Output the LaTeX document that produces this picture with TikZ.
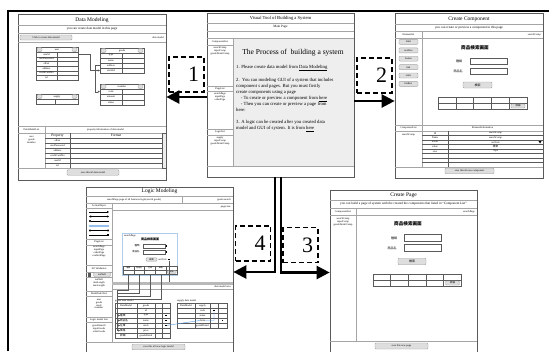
\documentclass[tikz,border=0pt]{standalone}
\usepackage{fontspec}
\setmainfont{Liberation Serif}
\newfontfamily\jpfont{Noto Sans CJK JP}
\usetikzlibrary{positioning, arrows.meta, calc}
\definecolor{FrameGray}{RGB}{90,90,90}
\definecolor{LineGray}{RGB}{165,165,165}
\definecolor{PaneGray}{RGB}{238,238,238}
\definecolor{BtnGray}{RGB}{222,222,222}
\definecolor{PreviewBlue}{RGB}{175,205,235}
\definecolor{LinkBlue}{RGB}{80,150,225}

\begin{document}
\begin{tikzpicture}[x=1pt, y=-1pt,
  panel/.style={rectangle, draw=FrameGray, fill=white, line width=0.7pt, inner sep=0pt},
  sep/.style={draw=LineGray, line width=0.4pt},
  grid/.style={draw=FrameGray, line width=0.3pt},
  ttl/.style={font=\fontsize{5.5}{6}\selectfont, inner sep=0pt},
  sub/.style={font=\fontsize{3.3}{3.6}\selectfont, inner sep=0pt},
  tinytxt/.style={font=\fontsize{2.6}{2.9}\selectfont, inner sep=0pt, align=center},
  body/.style={font=\fontsize{4.7}{6}\selectfont, inner sep=0pt, anchor=north west, align=left},
  jptxt/.style={font=\jpfont\fontsize{3}{3.4}\selectfont, inner sep=0pt},
  jptitle/.style={font=\jpfont\bfseries\fontsize{4.6}{5}\selectfont, inner sep=0pt},
  btn/.style={rectangle, rounded corners=1pt, draw=LineGray, fill=BtnGray, font=\fontsize{2.6}{2.9}\selectfont, inner sep=0pt},
  field/.style={rectangle, draw=FrameGray, fill=white, line width=0.3pt, inner sep=0pt},
  cell/.style={rectangle, draw=FrameGray, line width=0.3pt, inner sep=0pt},
  link/.style={-{Triangle[length=2pt,width=2pt]}, line width=0.3pt, FrameGray},
  numbox/.style={rectangle, draw=black, line width=1.6pt, dash pattern=on 5pt off 3pt, minimum width=35pt, minimum height=35pt, inner sep=5pt, text width=25pt, align=right, font=\fontsize{22}{22}\selectfont},
  bigarrow/.style={-{Triangle[length=13pt,width=13pt]}, line width=2.4pt}
]
\useasboundingbox (0,0) rectangle (549,351);
\draw[line width=2pt] (8.3,351) -- (8.3,11) -- (549,11);

% Data Modeling (top left)
\node[panel, minimum width=148pt, minimum height=166pt] (datamodel) at (92,97) {};
\draw[sep] (18,25) -- (166,25) (18,33) -- (166,33) (18,42) -- (166,42) (18,126) -- (166,126)
  (18,133) -- (166,133) (18,168) -- (166,168) (45,126) -- (45,168);
\node[ttl] (dmtitle) at (92,20) {Data Modeling};
\node[sub] (dmsub) at (92,29) {you can create data model in this page};
\node[btn, minimum width=52pt, minimum height=5pt] (dmclick) at (46,37.5) {Click to create data model};
\node[tinytxt, anchor=east] (dmname) at (164,37.5) {data model};
\node[cell, minimum width=42pt, minimum height=33pt] (user) at (57,63.5) {};
\node[cell, minimum width=44pt, minimum height=25pt] (goods) at (122,60.5) {};
\node[cell, minimum width=44pt, minimum height=21pt] (member) at (122,94.5) {};
\node[cell, minimum width=42pt, minimum height=10pt] (supply) at (57,99) {};
\foreach \t/\xa/\xb/\ya in {user/36/78/47, goods/100/144/48, member/100/144/84, supply/36/78/94} {
  \draw[grid] (\xa,{\ya+5}) -- (\xb,{\ya+5});
  \node[btn, minimum width=5pt, minimum height=3.6pt] (\t-bl) at ({\xa+3.5},{\ya+2.5}) {};
  \node[btn, minimum width=5pt, minimum height=3.6pt] (\t-br) at ({\xb-3.5},{\ya+2.5}) {};
  \node[tinytxt] (\t-head) at ({(\xa+\xb)/2},{\ya+2.5}) {\t};
}
\draw[grid] (57,52) -- (57,80) (122,53) -- (122,73) (122,89) -- (122,105) (55,99) -- (55,104);
\foreach \r [count=\i] in {userId,userPassword,offset,address,creditCardNo,tel} {
  \node[tinytxt] (user-\i) at (46.5,{49.67+4.67*\i}) {\r};
  \draw[grid] (36,{52+4.67*\i}) -- (78,{52+4.67*\i});
}
\foreach \r [count=\i] in {type,name,address,stockId} {
  \node[tinytxt] (goods-\i) at (111,{50.5+5*\i}) {\r};
  \draw[grid] (100,{53+5*\i}) -- (144,{53+5*\i});
}
\foreach \r [count=\i] in {code,amount,status} {
  \node[tinytxt] (member-\i) at (111,{86.33+5.33*\i}) {\r};
  \draw[grid] (100,{89+5.33*\i}) -- (144,{89+5.33*\i});
}
\draw[link] (user.east |- user-1) -- ++(12,0) |- (goods.west |- goods-4);
\draw[link] (goods.west |- goods-3) -- ++(-5,0) |- (member.west |- member-1);
\node[tinytxt] (dmlist) at (31.5,129.5) {DataModelList};
\node[tinytxt] (dmlistitems) at (31.5,140) {user\\goods\\member};
\node[tinytxt] (dminfo) at (105.5,129.5) {property Information of data model};
\draw[grid] (70,133) -- (70,168) (45,138) -- (162,138);
\foreach \k in {1,...,5} \draw[grid] (45,{138+5*\k}) -- (162,{138+5*\k});
\node[font=\fontsize{3.6}{4}\selectfont, inner sep=0pt] (dmprop) at (57.5,135.7) {Property};
\node[font=\fontsize{3.6}{4}\selectfont, inner sep=0pt] (dmformat) at (116,135.7) {Format};
\foreach \p [count=\i] in {offset,userPassword,address,creditCardNo,userId,tel}
  \node[tinytxt] (prop-\i) at (57.5,{135.5+5*\i}) {\p};
\draw[grid, fill=PaneGray] (162,133) rectangle (166,168);
\node[btn, minimum width=52pt, minimum height=5.5pt] (dmsave) at (93,172.5) {save this all data model};

% Main Page (top middle)
\node[panel, minimum width=147pt, minimum height=164pt] (mainpage) at (280.5,95) {};
\fill[PaneGray] (233,38) rectangle (353.6,166);
\draw[sep] (207,23) -- (354,23) (207,31) -- (354,31) (207,38) -- (354,38) (207,166) -- (354,166)
  (233,38) -- (233,166) (207,45) -- (233,45) (207,86) -- (233,86) (207,91) -- (233,91)
  (207,129) -- (233,129) (207,135) -- (233,135);
\node[font=\fontsize{4.6}{5}\selectfont, inner sep=0pt] (mtitle) at (280.5,18.5) {Visual Tool of Building a System};
\node[sub] (msub) at (280.5,27) {Main Page};
\node[tinytxt] (mcomp) at (220,41.5) {ComponentList};
\node[tinytxt] (mcompitems) at (220,51) {searchComp\\inputComp\\goodsDetailComp};
\node[tinytxt] (mpage) at (220,88.5) {PageList};
\node[tinytxt] (mpageitems) at (220,97) {searchPage\\inputPage\\orderPage};
\node[tinytxt] (mlogic) at (220,132) {LogicList};
\node[tinytxt] (mlogicitems) at (220,141) {supply\\inputComp\\goodsDetailComp};
\node[font=\fontsize{7.5}{8}\selectfont, inner sep=0pt] (mhead) at (293,53) {The Process of \ building a system};
\node[body] (mstep1) at (236,64.5) {1. Please create data model from \underline{Data Modeling}};
\node[body] (mstep2) at (236,78) {2.\ \ You can modeling GUI of a system that includes\\component s and pages. But you must firstly\\create components using a page\\\quad - To create or preview a component from \underline{here}\\\quad - Then you can create or preview a page from\\here:};
\node[body] (mstep3) at (236,120) {3. A logic can be created after you created data\\model and GUI of system. It is from \underline{here}};

% Create Component (top right)
\node[panel, minimum width=148pt, minimum height=165pt] (newcomp) at (469,95.5) {};
\draw[sep] (395,24) -- (543,24) (395,31) -- (543,31) (395,38) -- (543,38) (422,31) -- (422,125)
  (395,125) -- (543,125) (395,131) -- (543,131) (422,125) -- (422,167) (395,167) -- (543,167);
\node[ttl] (cctitle) at (469,19) {Create Component};
\node[sub] (ccsub) at (469,27.5) {you can create or preview a component in this page};
\node[tinytxt] (ccelem) at (408.5,34.5) {Elementlist};
\node[tinytxt, anchor=east] (ccname) at (541,34.5) {searchComp};
\foreach \b [count=\i] in {label,textBox,button,link,table,listBox}
  \node[btn, minimum width=19pt, minimum height=5pt] (elem-\i) at (408.5,{33.5+8.4*\i}) {\b};
\node[jptitle] (ccscreen) at (475,48) {商品検索画面};
\node[jptxt] (cclab1) at (459,61) {種類};
\node[field, minimum width=37pt, minimum height=6pt] (ccin1) at (488.5,61) {};
\node[jptxt] (cclab2) at (458,71) {商品名};
\node[field, minimum width=37pt, minimum height=6pt] (ccin2) at (488.5,71) {};
\node[btn, minimum width=29pt, minimum height=6pt, font=\jpfont\fontsize{3}{3}\selectfont] (ccsearch) at (477.5,85) {検索};
\node[cell, minimum width=89pt, minimum height=12pt] (cctable) at (482.5,103) {};
\foreach \k in {1,...,4} \draw[grid] ({438+17.8*\k},97) -- ({438+17.8*\k},109);
\draw[grid] (438,103) -- (527,103);
\node[btn, minimum width=14pt, minimum height=4pt, font=\jpfont\fontsize{2.4}{2.6}\selectfont] (ccdetail) at (518,106) {詳細};
\node[tinytxt] (cclist) at (408.5,128) {ComponentList};
\node[tinytxt] (ccinfo) at (482.5,128) {ElementInformation};
\node[tinytxt] (cclistitem) at (408.5,134.5) {searchComp};
\foreach \k in {1,...,7} \draw[grid] (422,{131+4.5*\k}) -- (543,{131+4.5*\k});
\draw[grid] (448,131) -- (448,167);
\foreach \a/\b [count=\i] in {Id/searchComp,Name/searchComp,event/onClick,value/{\jpfont 検索},size/70px} {
  \node[tinytxt] (ccprop-\i) at (435,{128.75+4.5*\i}) {\a};
  \node[tinytxt] (ccval-\i) at (495.5,{128.75+4.5*\i}) {\b};
}
\fill (538.5,141) -- (541.5,141) -- (540,143.5) -- cycle;
\node[btn, minimum width=49pt, minimum height=5.5pt] (ccsave) at (469.5,171) {save this all new component};

% Logic Modeling (bottom left)
\node[panel, minimum width=147pt, minimum height=167pt] (logic) at (159.5,270.5) {};
\draw[sep] (86,196) -- (233,196) (86,203) -- (233,203) (182,196) -- (182,203) (112,203) -- (112,342)
  (112,210) -- (233,210) (86,342) -- (233,342) (112,289) -- (233,289);
\foreach \yy in {208,239,245,265,272,277,291,296,317,322} \draw[sep] (86,\yy) -- (112,\yy);
\node[ttl] (lmtitle) at (159.5,191.5) {Logic Modeling};
\node[tinytxt] (lmpage) at (134,199.5) {searchPage page of all business logic(search goods)};
\node[tinytxt, anchor=east] (lmname) at (231,199.5) {goods search};
\node[tinytxt] (lmaction) at (99,205.5) {ActionObject};
\draw[line width=0.6pt, -{Triangle[length=2pt,width=2pt]}] (89,212) -- (109,212);
\draw[line width=0.6pt, {Triangle[length=2pt,width=2pt]}-{Triangle[length=2pt,width=2pt]}] (89,216.5) -- (109,216.5);
\draw[line width=0.6pt, {Circle[length=2pt]}-] (89,221) -- (109,221);
\draw[line width=1.2pt, LinkBlue!60] (89,226) -- (109,226);
\draw[line width=0.6pt, {Circle[length=2pt]}-{Circle[length=2pt]}] (89,230.5) -- (109,230.5);
\draw[line width=0.6pt, -{Square[length=2pt]}] (89,235) -- (109,235);
\node[tinytxt] (lmpages) at (99,242) {PageList};
\node[tinytxt] (lmpageitems) at (99,251.5) {searchPage\\inputPage\\orderPage\\confirmPage};
\node[tinytxt] (lmvalid) at (99,268.5) {All Validation};
\node[cell, fill=FrameGray, minimum width=2.5pt, minimum height=2.5pt] (lmcheck) at (89,274.5) {};
\node[btn, minimum width=17pt, minimum height=4pt] (lmnotnull) at (102,274.5) {notNull};
\node[tinytxt] (lmvaliditems) at (99,283) {notNull\\minLength\\maxLength};
\node[tinytxt] (lmdata) at (99,293.5) {DataModel List};
\node[tinytxt] (lmdataitems) at (99,304) {user\\goods\\stock\\member};
\node[tinytxt] (lmlogic) at (99,319.5) {Logic model List};
\node[tinytxt] (lmlogicitems) at (99,328.5) {goodsSearch\\inputGoods\\orderGoods};
\node[tinytxt, anchor=east] (lmview) at (231,207) {pageview};
\node[draw=PreviewBlue, line width=0.5pt, minimum width=55pt, minimum height=42pt, inner sep=0pt] (preview) at (149.5,254) {};
\node[tinytxt] (pvname) at (130,235.5) {searchPage};
\node[jptxt, font=\jpfont\bfseries\fontsize{3}{3.4}\selectfont] (pvtitle) at (150,239.5) {商品検索画面};
\node[jptxt, font=\jpfont\fontsize{2.4}{2.6}\selectfont] (pvlab1) at (137,246) {種類};
\node[field, minimum width=22pt, minimum height=3.5pt] (pvin1) at (154,246) {};
\node[jptxt, font=\jpfont\fontsize{2.4}{2.6}\selectfont] (pvlab2) at (136,252) {商品名};
\node[field, minimum width=22pt, minimum height=3.5pt] (pvin2) at (154,252) {};
\node[fill=black, minimum size=1.5pt, inner sep=0pt] (pvmark1) at (166.5,246) {};
\node[fill=black, minimum size=1.5pt, inner sep=0pt] (pvmark2) at (166.5,252) {};
\node[btn, minimum width=11pt, minimum height=3.5pt, font=\jpfont\fontsize{2.2}{2.4}\selectfont] (pvsearch) at (151.5,259.5) {検索};
\node[tinytxt] (pvevent) at (162.5,259.5) {onClick};
\node[fill=black, minimum size=1.8pt, inner sep=0pt] (onclk) at (169,259.5) {};
\node[cell, minimum width=54pt, minimum height=8pt] (pvtable) at (150,270) {};
\foreach \k in {1,...,4} \draw[grid] ({123+10.8*\k},266) -- ({123+10.8*\k},274);
\draw[grid] (123,270) -- (177,270);
\foreach \h [count=\i] in {種類,商品名,在庫,価格} {
  \node[jptxt, font=\jpfont\fontsize{1.9}{2}\selectfont] (pvh-\i) at ({117.6+10.8*\i},268) {\h};
  \coordinate (pc-\i) at ({117.6+10.8*\i},274);
}
\node[btn, minimum width=9pt, minimum height=3pt, font=\jpfont\fontsize{1.9}{2}\selectfont] (pvdetail) at (171.6,272) {詳細};
\node[fill=gray!55, minimum width=121pt, minimum height=2.5pt, inner sep=0pt] (band) at (172.5,283.3) {};
\node[tinytxt, anchor=east] (lmagent) at (231,286.5) {data model area};
\draw[grid] (onclk.south) -- (onclk.south |- band.north);
\node[tinytxt, anchor=west] (gdmname) at (115,300.5) {goods data model};
\node[cell, minimum width=55pt, minimum height=35pt] (goodsdm) at (142.5,320.5) {};
\draw[grid] (137,303) -- (137,338) (155,303) -- (155,338) (162,303) -- (162,338);
\foreach \k in {1,...,6} \draw[grid] (115,{303+5*\k}) -- (170,{303+5*\k});
\foreach \a/\b [count=\i] in {DataModel/goods,{}/id,{\jpfont 種類}/type,{\jpfont 商品名}/name,{\jpfont 在庫}/stock,{\jpfont 価格}/price,{\jpfont 詳細}/goodsDetail} {
  \node[tinytxt, anchor=west] (gdm-\i) at (120,{300.5+5*\i}) {\a};
  \node[tinytxt] (gdv-\i) at (146,{300.5+5*\i}) {\b};
}
\foreach \i in {3,4,5} \node[fill=black, minimum size=1.5pt, inner sep=0pt] (gdot-\i) at (166,{300.5+5*\i}) {};
\node[tinytxt, anchor=west] (sdmname) at (177,300.5) {supply data model};
\node[cell, minimum width=50pt, minimum height=25pt] (supplydm) at (202,315.5) {};
\draw[grid] (195,303) -- (195,328) (210,303) -- (210,328) (218,303) -- (218,328);
\foreach \k in {1,...,4} \draw[grid] (177,{303+5*\k}) -- (227,{303+5*\k});
\foreach \a/\b [count=\i] in {DataModel/supply,{}/code,{}/status,{}/form,{}/goodsDetail} {
  \node[tinytxt] (sdm-\i) at (186,{300.5+5*\i}) {\a};
  \node[tinytxt] (sdv-\i) at (202.5,{300.5+5*\i}) {\b};
}
\node[fill=black, minimum size=1.5pt, inner sep=0pt] (sdot-2) at (214,310.5) {};
\node[fill=black, minimum size=1.5pt, inner sep=0pt] (sdot-4) at (222.5,320.5) {};
\foreach \i/\j in {1/3,2/4,3/5,4/6}
  \draw[link] (pc-\i) -- ++(0,{13+3*\i}) -- ++({-0.6-10.8*\i},0) |- (gdm-\j.west);
\draw[LinkBlue, line width=0.4pt] (gdot-5) -- (sdv-4.west) (sdv-4.east) -| (sdot-2);
\node[btn, minimum width=53pt, minimum height=5.5pt] (lmsave) at (158.5,347) {save this all new logic model};

% Create Page (bottom right)
\node[panel, minimum width=147pt, minimum height=165pt] (newpage) at (403.5,272.5) {};
\draw[sep] (330,200) -- (477,200) (330,208) -- (477,208) (330,215) -- (477,215) (356,208) -- (356,341) (330,341) -- (477,341);
\node[ttl] (cptitle) at (403.5,195.5) {Create Page};
\node[sub] (cpsub) at (403.5,204) {you can build a page of system with the created the components that listed in ``Component List''};
\node[tinytxt] (cplist) at (343,211.5) {ComponentList};
\node[tinytxt, anchor=east] (cpname) at (475,211.5) {searchPage};
\node[tinytxt] (cplistitems) at (343,221.5) {searchComp\\inputComp\\goodsDetailComp};
\node[jptitle] (cpscreen) at (408,224) {商品検索画面};
\node[jptxt] (cplab1) at (394,238) {種類};
\node[field, minimum width=37pt, minimum height=7pt] (cpin1) at (422.5,237.5) {};
\node[jptxt] (cplab2) at (392,248) {商品名};
\node[field, minimum width=37pt, minimum height=7pt] (cpin2) at (422.5,248) {};
\node[btn, minimum width=28pt, minimum height=6.5pt, font=\jpfont\fontsize{3}{3}\selectfont] (cpsearch) at (412,261.5) {検索};
\node[cell, minimum width=88pt, minimum height=12pt] (cptable) at (417,280) {};
\foreach \k in {1,...,4} \draw[grid] ({373+17.6*\k},274) -- ({373+17.6*\k},286);
\draw[grid] (373,280) -- (461,280);
\node[btn, minimum width=14pt, minimum height=4pt, font=\jpfont\fontsize{2.4}{2.6}\selectfont] (cpdetail) at (452.5,283) {詳細};
\node[btn, minimum width=53pt, minimum height=6pt] (cpsave) at (401.5,346) {save this new page};

% steps
\draw[bigarrow] ([yshift=-2pt]mainpage.west) -- ([yshift=-2pt]mainpage.west -| datamodel.east);
\draw[bigarrow] ([yshift=-6pt]mainpage.east) -- ([yshift=-6pt]mainpage.east -| newcomp.west);
\draw[bigarrow] ([xshift=0.5pt]mainpage.south) |- (newpage.west);
\draw[bigarrow] ([xshift=-5.5pt]mainpage.south) |- ([yshift=-1.5pt]logic.east);
\node[numbox] (step1) at (186.5,74.5) {1};
\node[numbox] (step2) at (374.5,75.5) {2};
\node[numbox] (step3) at (300.5,245) {3};
\node[numbox] (step4) at (253,243.5) {4};
\end{tikzpicture}
\end{document}
